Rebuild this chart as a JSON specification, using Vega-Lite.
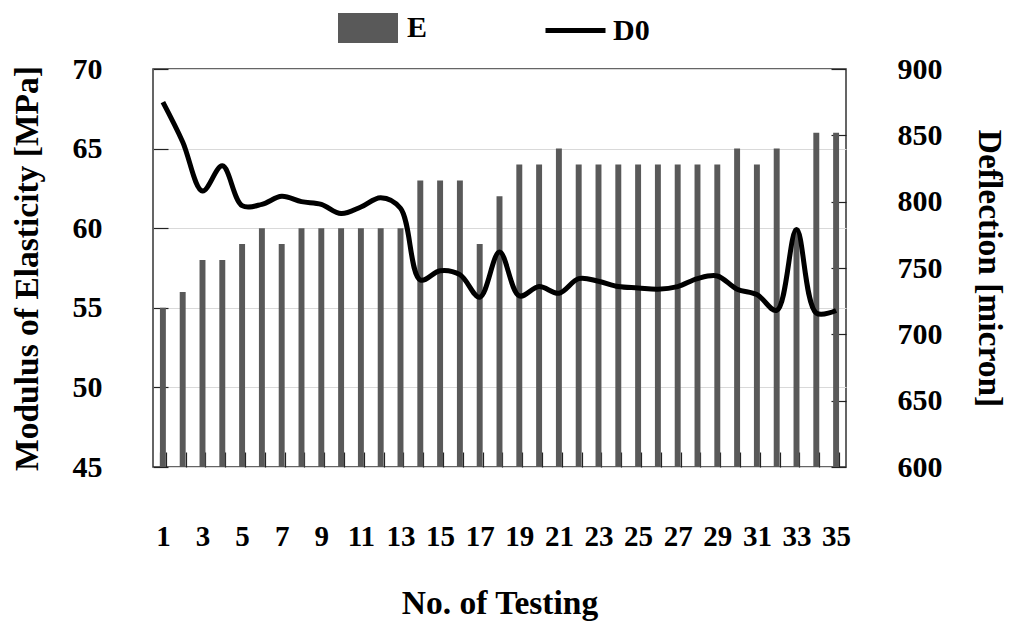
{
  "$schema": "https://vega.github.io/schema/vega-lite/v6.json",
  "width": 693,
  "height": 398,
  "autosize": {"type": "none"},
  "padding": {"left": 153, "top": 69, "right": 165, "bottom": 159},
  "background": "white",
  "config": {
    "font": "Liberation Serif",
    "view": {"stroke": "#333333", "strokeWidth": 1.5},
    "axis": {
      "labelFont": "Liberation Serif",
      "labelFontWeight": "bold",
      "labelFontSize": 30,
      "labelColor": "black",
      "titleFont": "Liberation Serif",
      "titleFontWeight": "bold",
      "titleFontSize": 33.5,
      "titleColor": "black",
      "domain": false,
      "tickColor": "#222222",
      "tickWidth": 1.2
    },
    "legend": {
      "labelFont": "Liberation Serif",
      "labelFontWeight": "bold",
      "labelFontSize": 30,
      "labelColor": "black",
      "padding": 0
    }
  },
  "data": {
    "values": [
      {"n": 1, "E": 55, "D0": 875},
      {"n": 2, "E": 56, "D0": 845},
      {"n": 3, "E": 58, "D0": 808},
      {"n": 4, "E": 58, "D0": 827},
      {"n": 5, "E": 59, "D0": 797},
      {"n": 6, "E": 60, "D0": 798},
      {"n": 7, "E": 59, "D0": 804},
      {"n": 8, "E": 60, "D0": 800},
      {"n": 9, "E": 60, "D0": 798},
      {"n": 10, "E": 60, "D0": 791},
      {"n": 11, "E": 60, "D0": 796},
      {"n": 12, "E": 60, "D0": 803},
      {"n": 13, "E": 60, "D0": 795},
      {"n": 14, "E": 63, "D0": 741},
      {"n": 15, "E": 63, "D0": 748},
      {"n": 16, "E": 63, "D0": 745},
      {"n": 17, "E": 59, "D0": 728},
      {"n": 18, "E": 62, "D0": 762},
      {"n": 19, "E": 64, "D0": 729},
      {"n": 20, "E": 64, "D0": 736},
      {"n": 21, "E": 65, "D0": 731},
      {"n": 22, "E": 64, "D0": 742},
      {"n": 23, "E": 64, "D0": 740},
      {"n": 24, "E": 64, "D0": 736},
      {"n": 25, "E": 64, "D0": 735},
      {"n": 26, "E": 64, "D0": 734},
      {"n": 27, "E": 64, "D0": 736},
      {"n": 28, "E": 64, "D0": 742},
      {"n": 29, "E": 64, "D0": 744},
      {"n": 30, "E": 65, "D0": 734},
      {"n": 31, "E": 64, "D0": 730},
      {"n": 32, "E": 65, "D0": 718},
      {"n": 33, "E": 60, "D0": 779},
      {"n": 34, "E": 66, "D0": 716},
      {"n": 35, "E": 66, "D0": 718}
    ]
  },
  "encoding": {
    "x": {
      "field": "n",
      "type": "ordinal",
      "scale": {"paddingInner": 0.7, "paddingOuter": 0.35},
      "axis": {
        "title": "No. of Testing",
        "labelAngle": 0,
        "labelFontSize": 29,
        "labelExpr": "datum.value % 2 == 1 ? datum.label : ''",
        "tickBand": "extent",
        "tickSize": -15,
        "labelPadding": 70,
        "titlePadding": 36
      }
    }
  },
  "layer": [
    {
      "mark": {"type": "bar"},
      "encoding": {
        "y": {
          "field": "E",
          "type": "quantitative",
          "scale": {"domain": [45, 70], "zero": false, "nice": false},
          "axis": {
            "title": "Modulus of Elasticity [MPa]",
            "values": [45, 50, 55, 60, 65, 70],
            "tickSize": -15,
            "labelPadding": 66,
            "titlePadding": 28,
            "grid": true,
            "gridColor": "#d9d9d9",
            "gridWidth": 1.2
          }
        },
        "y2": {"datum": 45},
        "fill": {
          "datum": "E",
          "type": "nominal",
          "scale": {"domain": ["E"], "range": ["#595959"]},
          "legend": {
            "title": null,
            "orient": "none",
            "legendX": 185,
            "legendY": -71,
            "symbolType": "M-1,-0.5H1V0.5H-1Z",
            "symbolSize": 3600,
            "symbolStrokeWidth": 0,
            "symbolOpacity": 1,
            "labelOffset": 9
          }
        }
      }
    },
    {
      "mark": {"type": "line", "interpolate": "catmull-rom", "strokeWidth": 5},
      "encoding": {
        "y": {
          "field": "D0",
          "type": "quantitative",
          "scale": {"domain": [600, 900], "zero": false, "nice": false},
          "axis": {
            "title": "Deflection [micron]",
            "orient": "right",
            "values": [600, 650, 700, 750, 800, 850, 900],
            "tickSize": -15,
            "labelPadding": 66,
            "titlePadding": 29,
            "grid": false
          }
        },
        "stroke": {
          "datum": "D0",
          "type": "nominal",
          "scale": {"domain": ["D0"], "range": ["black"]},
          "legend": {
            "title": null,
            "orient": "none",
            "legendX": 390,
            "legendY": -71,
            "symbolType": "stroke",
            "symbolSize": 3600,
            "symbolStrokeWidth": 5,
            "labelOffset": 5
          }
        }
      }
    }
  ],
  "resolve": {"scale": {"y": "independent"}}
}
